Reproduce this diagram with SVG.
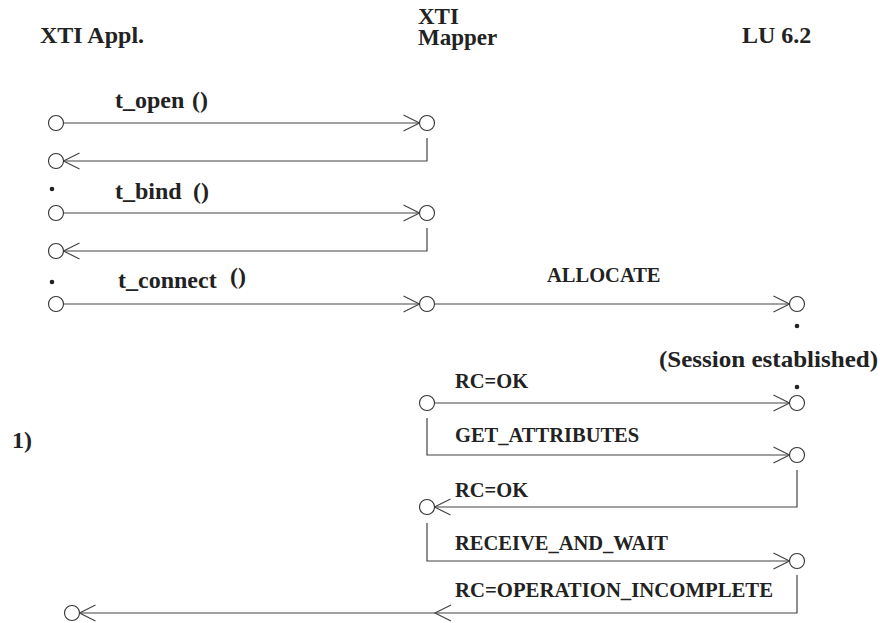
<svg xmlns="http://www.w3.org/2000/svg" width="880" height="623" viewBox="0 0 880 623">
<style>
text{font-family:'Liberation Serif','Times New Roman',serif;font-weight:bold;fill:#222}
.h{font-size:24px}
.m{font-size:23px}
.l{font-size:24px}
.u{font-size:20.5px}
.c{fill:#fff;stroke:#333;stroke-width:1.1}
.ln{fill:none;stroke:#444;stroke-width:1.2}
.dot{fill:#222}
</style>
<defs>
<marker id="arr" markerUnits="userSpaceOnUse" markerWidth="20" markerHeight="20" viewBox="-18 -10 20 20" refX="0" refY="0" orient="auto">
<path d="M-16,-8 L0,0 L-16,8" fill="none" stroke="#444" stroke-width="1.2"/>
</marker>
</defs>
<rect width="880" height="623" fill="#fff"/>

<g id="connectors">
<path class="ln" d="M63.5,123 H419.5" marker-end="url(#arr)"/>
<path class="ln" d="M427,138 V161 H63.5" marker-end="url(#arr)"/>
<path class="ln" d="M63.5,213 H419.5" marker-end="url(#arr)"/>
<path class="ln" d="M427,228 V251 H63.5" marker-end="url(#arr)"/>
<path class="ln" d="M63.5,304 H419.5" marker-end="url(#arr)"/>
<path class="ln" d="M434.5,304 H789.5" marker-end="url(#arr)"/>
<path class="ln" d="M434.5,403 H789.5" marker-end="url(#arr)"/>
<path class="ln" d="M427,418 V455 H789.5" marker-end="url(#arr)"/>
<path class="ln" d="M797,470 V507 H434.5" marker-end="url(#arr)"/>
<path class="ln" d="M427,523 V561 H789.5" marker-end="url(#arr)"/>
<path class="ln" d="M797,575 V613 H435" marker-end="url(#arr)"/>
<path class="ln" d="M435,613 H79.5" marker-end="url(#arr)"/>
</g>

<g id="appl">
<text class="h" x="40" y="43">XTI Appl.</text>
<circle class="c" cx="56" cy="123" r="7.5"/>
<circle class="c" cx="56" cy="161" r="7.5"/>
<circle class="dot" cx="52" cy="189" r="2.3"/>
<circle class="c" cx="56" cy="213" r="7.5"/>
<circle class="c" cx="56" cy="251" r="7.5"/>
<circle class="dot" cx="52" cy="282" r="2.3"/>
<circle class="c" cx="56" cy="304" r="7.5"/>
<circle class="c" cx="72" cy="613" r="7.5"/>
<text class="l" x="12" y="448">1)</text>
</g>

<g id="mapper">
<text class="m" x="418" y="24">XTI</text>
<text class="m" x="418" y="45">Mapper</text>
<circle class="c" cx="427" cy="123" r="7.5"/>
<circle class="c" cx="427" cy="213" r="7.5"/>
<circle class="c" cx="427" cy="304" r="7.5"/>
<circle class="c" cx="427" cy="403" r="7.5"/>
<circle class="c" cx="427" cy="507" r="7.5"/>
</g>

<g id="lu62">
<text class="h" x="742" y="43">LU 6.2</text>
<circle class="c" cx="797" cy="304" r="7.5"/>
<circle class="dot" cx="797" cy="326" r="2.3"/>
<text class="l" x="659" y="367" textLength="219" lengthAdjust="spacingAndGlyphs">(Session established)</text>
<circle class="dot" cx="797" cy="387" r="2.3"/>
<circle class="c" cx="797" cy="403" r="7.5"/>
<circle class="c" cx="797" cy="455" r="7.5"/>
<circle class="c" cx="797" cy="561" r="7.5"/>
</g>

<g id="labels">
<text class="l" x="115" y="108">t_open<tspan x="192">()</tspan></text>
<text class="l" x="115" y="199">t_bind<tspan x="193">()</tspan></text>
<text class="l" x="118" y="288">t_connect</text>
<text class="l" x="230" y="284">()</text>
<text class="u" x="547" y="282">ALLOCATE</text>
<text class="u" x="455" y="388">RC=OK</text>
<text class="u" x="455" y="442">GET_ATTRIBUTES</text>
<text class="u" x="455" y="497">RC=OK</text>
<text class="u" x="455" y="550">RECEIVE_AND_WAIT</text>
<text class="u" x="455" y="597" textLength="318" lengthAdjust="spacingAndGlyphs">RC=OPERATION_INCOMPLETE</text>
</g>
</svg>
